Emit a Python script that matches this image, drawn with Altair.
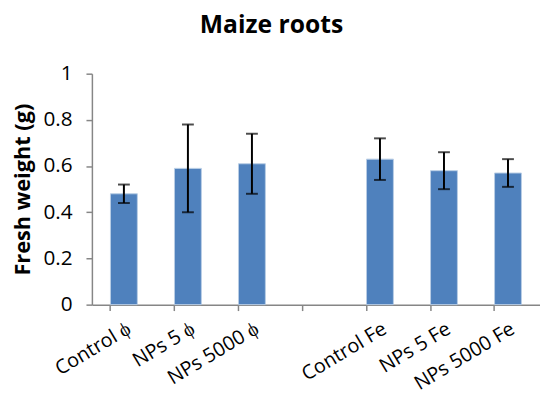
import altair as alt
import pandas as pd

categories = ["Control ϕ", "NPs 5 ϕ", "NPs 5000 ϕ", " ", "Control Fe", "NPs 5 Fe", "NPs 5000 Fe"]
values = [0.48, 0.59, 0.61, None, 0.63, 0.58, 0.57]
errors = [0.04, 0.19, 0.13, None, 0.09, 0.08, 0.06]

df = pd.DataFrame({"cat": categories, "val": values, "err": errors})
df["lo"] = df["val"] - df["err"]
df["hi"] = df["val"] + df["err"]
bars_df = df.dropna()

FONT = "Open Sans"

x = alt.X("cat:N", sort=categories, title=None,
          scale=alt.Scale(domain=categories, paddingInner=0.58, paddingOuter=0.29),
          axis=alt.Axis(labelAngle=-31, labelAlign="right", labelBaseline="top",
                        labelFontSize=20, labelFont=FONT, labelColor="black",
                        bandPosition=0, tickSize=6, tickColor="#868686",
                        domainColor="#868686", domainWidth=1.5, tickWidth=1.5,
                        labelPadding=8))

y_axis = alt.Axis(values=[0, 0.2, 0.4, 0.6, 0.8, 1], labelFontSize=21, labelFont=FONT,
                  labelColor="black", grid=False, tickSize=6, tickColor="#868686",
                  domainColor="#868686", domainWidth=1.5, tickWidth=1.5,
                  titleFontSize=22, titleFont=FONT,
                  titleFontWeight="bold", titleColor="black", labelPadding=14,
                  titlePadding=9,
                  labelExpr="datum.value == 0 ? '0' : datum.value == 1 ? '1' : format(datum.value, '.1f')")

base = alt.Chart(bars_df)

bars = base.mark_bar(color="#4F81BD", stroke="#B9CDE5", strokeWidth=1).encode(
    x=x,
    y=alt.Y("val:Q", title="Fresh weight (g)", scale=alt.Scale(domain=[0, 1]), axis=y_axis),
)

rules = base.mark_rule(color="black", strokeWidth=2).encode(
    x=alt.X("cat:N", sort=categories), y="lo:Q", y2="hi:Q")
cap_lo = base.mark_tick(color="black", thickness=2, size=12, orient="horizontal").encode(
    x=alt.X("cat:N", sort=categories), y="lo:Q")
cap_hi = base.mark_tick(color="black", thickness=2, size=12, orient="horizontal").encode(
    x=alt.X("cat:N", sort=categories), y="hi:Q")

chart = alt.layer(bars, rules, cap_lo, cap_hi).properties(
    width=454, height=234,
    autosize=alt.AutoSizeParams(type="none"),
    padding={"left": 85, "top": 64, "right": 0, "bottom": 90},
    title=alt.Title("Maize roots", fontSize=25, font=FONT, fontWeight="bold",
                    color="black", anchor="middle", frame="group", dx=-45, offset=25),
).configure_view(stroke=None)

chart.save("out.html", embed_options={"renderer": "svg", "actions": False})
